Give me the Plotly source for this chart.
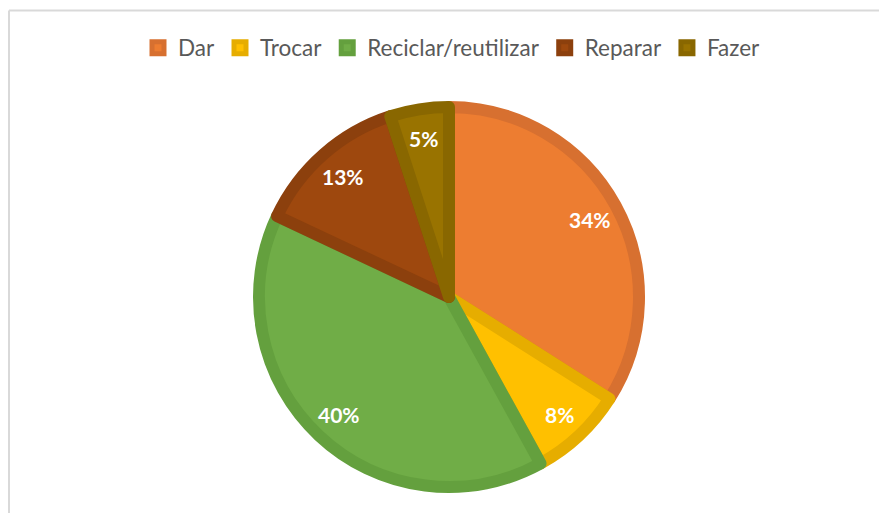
import math
import plotly.graph_objects as go

categories = ["Dar", "Trocar", "Reciclar/reutilizar", "Reparar", "Fazer"]
values = [34, 8, 40, 13, 5]
fill_colors = ["#ED7D31", "#FFC000", "#70AD47", "#9E480E", "#997300"]
edge_colors = ["#D77030", "#E6AD00", "#64A03E", "#8C400D", "#896700"]

W, H = 879, 513
cx, cy = 449, 297          # pie centre in pixels
R_pie = 190
stroke = 12

fig = go.Figure()
fig.add_trace(go.Pie(
    labels=categories,
    values=values,
    sort=False,
    direction="clockwise",
    rotation=0,
    textinfo="none",
    hoverinfo="label+percent",
    marker=dict(colors=fill_colors, line=dict(color=edge_colors, width=stroke)),
    domain=dict(x=[(cx - R_pie) / W, (cx + R_pie) / W],
                y=[(H - cy - R_pie) / H, (H - cy + R_pie) / H]),
    showlegend=True,
))

total = sum(values)
cum = 0
annotations = []
r_lab = 0.82 * (R_pie + stroke / 2)
for v in values:
    mid = (cum + v / 2) / total * 2 * math.pi
    cum += v
    px = cx + r_lab * math.sin(mid)
    py = cy - r_lab * math.cos(mid)
    annotations.append(dict(
        x=px / W, y=1 - py / H, xref="paper", yref="paper",
        text=f"<b>{round(v / total * 100)}%</b>", showarrow=False,
        font=dict(family="Lato, Carlito, sans-serif", size=21, color="white"),
        xanchor="center", yanchor="middle",
    ))

frame = dict(color="#D9D9D9", width=2)
fig.update_layout(
    width=W, height=H,
    margin=dict(l=0, r=0, t=0, b=0),
    paper_bgcolor="white",
    plot_bgcolor="white",
    annotations=annotations,
    legend=dict(
        orientation="h",
        x=452 / W, xanchor="center",
        y=1 - 48 / H, yanchor="middle",
        font=dict(family="Lato, Carlito, sans-serif", size=22.5, color="#595959"),
        itemclick=False,
        traceorder="normal",
    ),
    shapes=[
        dict(type="line", xref="paper", yref="paper",
             x0=9 / W, x1=1, y0=1 - 10.5 / H, y1=1 - 10.5 / H, line=frame, layer="below"),
        dict(type="line", xref="paper", yref="paper",
             x0=9 / W, x1=9 / W, y0=0, y1=1 - 10.5 / H, line=frame, layer="below"),
    ],
)

fig.write_html(
    "out.html",
    config={"displayModeBar": False},
    post_script="document.body.style.margin='0';document.body.style.overflow='hidden';",
)
